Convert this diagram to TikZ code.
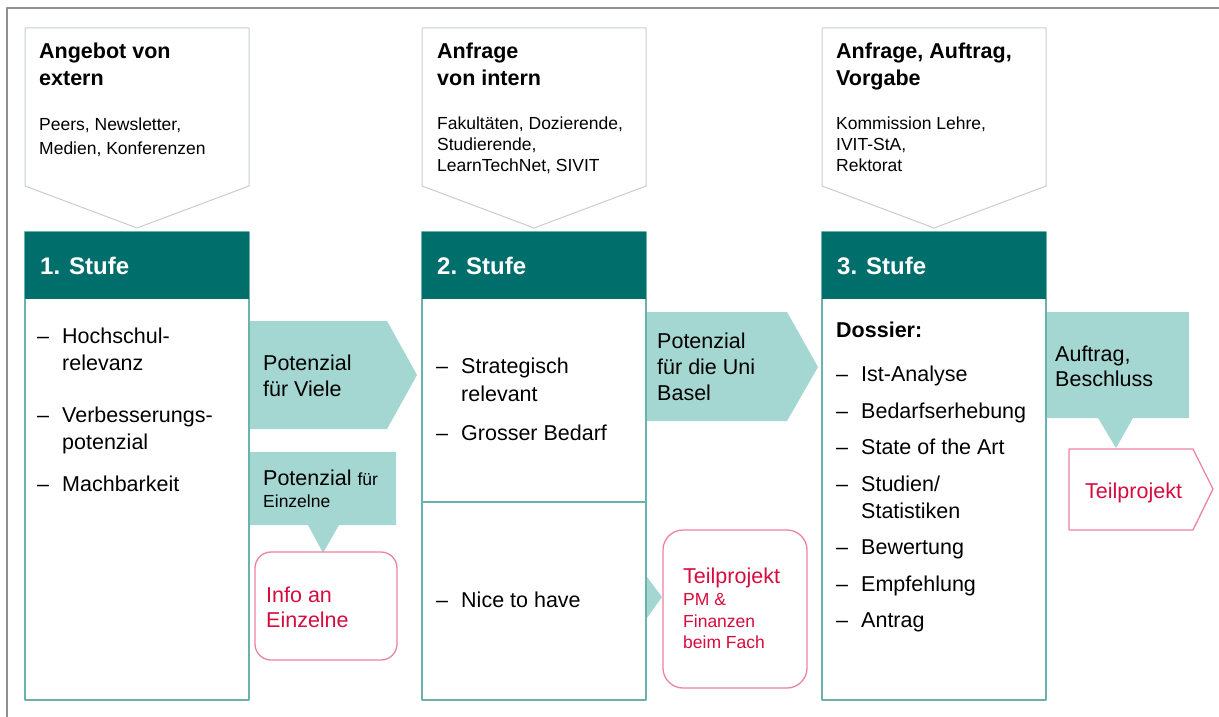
\documentclass[tikz,border=0pt]{standalone}
\usepackage{fontspec}
\setmainfont{Liberation Sans}
\usepackage{tikz}

\definecolor{stufegreen}{RGB}{0,110,106}
\definecolor{mint}{RGB}{164,215,210}
\definecolor{boxline}{RGB}{105,178,174}
\definecolor{greyline}{RGB}{202,206,210}
\definecolor{frameline}{RGB}{140,144,147}
\definecolor{pinkline}{RGB}{236,132,157}
\definecolor{redtext}{RGB}{214,12,62}

\tikzset{
  txt/.style={anchor=base west, inner sep=0pt, font=\fontsize{21.5}{26}\selectfont},
  small/.style={anchor=base west, inner sep=0pt, font=\fontsize{17.5}{21}\selectfont},
  title/.style={anchor=base west, inner sep=0pt, font=\fontsize{21.5}{26}\selectfont\bfseries},
  head/.style={anchor=base west, inner sep=0pt, text=white, font=\fontsize{24}{28}\selectfont\bfseries},
  redbox/.style={draw=pinkline, line width=1.3pt, fill=white},
}

\begin{document}
\begin{tikzpicture}[line join=round,x=1pt,y=-1pt]
\useasboundingbox (0,0) rectangle (1219,717);
\draw[frameline, line width=2pt] (7,717) -- (7,8) -- (1219,8);

% input pentagons
\foreach \x in {25,422,822}
  \draw[greyline, line width=1pt, fill=white] (\x,28) -- ++(224,0) -- ++(0,158) -- ++(-112,42) -- ++(-112,-42) -- cycle;
\node[title] (in1a) at (39,59) {Angebot von};
\node[title] (in1b) at (39,85) {extern};
\node[small] (in1c) at (39,130) {Peers, Newsletter,};
\node[small] (in1d) at (39,154) {Medien, Konferenzen};
\node[title] (in2a) at (437,59) {Anfrage};
\node[title] (in2b) at (437,85) {von intern};
\node[small] (in2c) at (437,129) {Fakultäten, Dozierende,};
\node[small] (in2d) at (437,150) {Studierende,};
\node[small] (in2e) at (437,171) {LearnTechNet, SIVIT};
\node[title] (in3a) at (836,59) {Anfrage, Auftrag,};
\node[title] (in3b) at (836,85) {Vorgabe};
\node[small] (in3c) at (836,129) {Kommission Lehre,};
\node[small] (in3d) at (836,150) {IVIT-StA,};
\node[small] (in3e) at (836,171) {Rektorat};

% stages
\foreach \x/\n in {25/1,422/2,822/3}{
  \draw[boxline, line width=1.2pt, fill=white] (\x,232) rectangle ++(224,468);
  \fill[stufegreen] (\x,232) rectangle ++(224,67);
  \node[head] (h\n) at (\x+15,274) {\n. Stufe};
}
\draw[boxline, line width=1.2pt] (422,502) -- (646,502);

% Stufe 1
\foreach \y/\t in {343/Hochschul-,370/relevanz,422/Verbesserungs-,449/potenzial,491/Machbarkeit}
  \node[txt] (s1-\y) at (62,\y) {\t};
\foreach \y in {343,422,491}
  \node[txt] (d1-\y) at (37,\y) {–};

% Stufe 2
\foreach \y/\t in {373/Strategisch,401/relevant,440/Grosser Bedarf,607/Nice to have}
  \node[txt] (s2-\y) at (461,\y) {\t};
\foreach \y in {373,440,607}
  \node[txt] (d2-\y) at (436,\y) {–};

% Stufe 3
\node[title] (dossier) at (836,337) {Dossier:};
\foreach \y/\t in {381/Ist-Analyse,418/Bedarfserhebung,454/State of the Art,491/{Studien/},518/Statistiken,554/Bewertung,591/Empfehlung,627/Antrag}
  \node[txt] (s3-\y) at (861,\y) {\t};
\foreach \y in {381,418,454,491,554,591,627}
  \node[txt] (d3-\y) at (836,\y) {–};

% arrows and callouts
\fill[mint] (250,321) -- (387,321) -- (417,375) -- (387,429) -- (250,429) -- cycle;
\node[txt] (viele1) at (263,370) {Potenzial};
\node[txt] (viele2) at (263,396) {für Viele};

\fill[mint] (250,452) -- (396,452) -- (396,525) -- (339,525) -- (323,553) -- (308,525) -- (250,525) -- cycle;
\node[txt] (einz1) at (263,485) {Potenzial {\fontsize{17.5}{21}\selectfont für}};
\node[small] (einz2) at (263,507) {Einzelne};

\draw[redbox, rounded corners=16pt] (255,552) rectangle (397,660);
\node[txt, text=redtext] (info1) at (266,602) {Info an};
\node[txt, text=redtext] (info2) at (266,627) {Einzelne};

\fill[mint] (647,312) -- (787,312) -- (818,367) -- (787,421) -- (647,421) -- cycle;
\node[txt] (uni1) at (657,348) {Potenzial};
\node[txt] (uni2) at (657,374) {für die Uni};
\node[txt] (uni3) at (657,400) {Basel};

\fill[mint] (647,577) -- (662,597) -- (647,618) -- cycle;
\draw[redbox, rounded corners=20pt] (663,530) rectangle (807,688);
\node[txt, text=redtext] (tp1) at (683,583) {Teilprojekt};
\node[small, text=redtext] (tp2) at (683,605) {PM \&};
\node[small, text=redtext] (tp3) at (683,627) {Finanzen};
\node[small, text=redtext] (tp4) at (683,648) {beim Fach};

\fill[mint] (1047,312) -- (1189,312) -- (1189,418) -- (1133,418) -- (1116,448) -- (1098,418) -- (1047,418) -- cycle;
\node[txt] (auf1) at (1055,361) {Auftrag,};
\node[txt] (auf2) at (1055,386) {Beschluss};

\draw[redbox] (1069,449) -- (1193,449) -- (1213,489) -- (1193,530) -- (1069,530) -- cycle;
\node[txt, text=redtext] (tp5) at (1085,498) {Teilprojekt};
\end{tikzpicture}
\end{document}
